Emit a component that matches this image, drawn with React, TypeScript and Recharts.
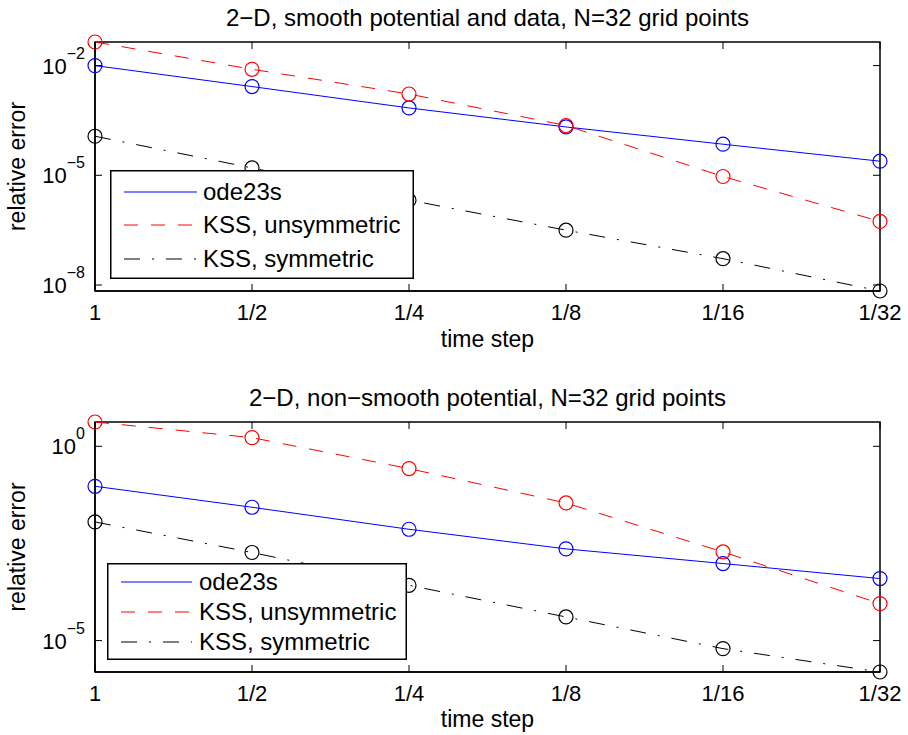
import React from "react";
import { LineChart, Line, XAxis, YAxis, Legend, ReferenceArea } from "recharts";

// x categories (time step), shared by both panels
const timeSteps = ["1", "1/2", "1/4", "1/8", "1/16", "1/32"];
const seriesNames = ["ode23s", "KSS, unsymmetric", "KSS, symmetric"];
const seriesKeys = ["ode", "kssU", "kssS"];
const seriesColors = ["#0000ff", "#ff0000", "#000000"];
const seriesDashes = ["none", "14 13", "16 12 2 12"];

// panel 1: smooth potential and data
const smoothOde = [1.0e-2, 2.67e-3, 6.95e-4, 2.1e-4, 7.08e-5, 2.43e-5];
const smoothKssU = [4.42e-2, 7.93e-3, 1.67e-3, 2.3e-4, 9.27e-6, 5.47e-7];
const smoothKssS = [1.17e-4, 1.59e-5, 2.09e-6, 3.16e-7, 5.25e-8, 6.85e-9];
const smoothTicks = [1e-2, 1e-5, 1e-8];

// panel 2: non-smooth potential
const roughOde = [9.35e-2, 2.7e-2, 7.33e-3, 2.29e-3, 9.62e-4, 3.95e-4];
const roughKssU = [4.22, 1.67, 0.267, 3.48e-2, 1.91e-3, 8.95e-5];
const roughKssS = [1.13e-2, 1.85e-3, 2.65e-4, 4.06e-5, 6.22e-6, 1.556e-6];
const roughTicks = [1, 1e-5];

const WIDTH = 908;
const YAXIS_W = 95;
const MARGIN_RIGHT = 28;
const TICK = 7;
const FONT = "'Liberation Sans', Arial, Helvetica, sans-serif";

interface PanelSpec {
  title: string;
  top: number;
  height: number;
  marginTop: number;
  xAxisHeight: number;
  xLabelGap: number;
  values: number[][];
  ticks: number[];
  legend: { left: number; top: number; width: number; height: number; rows: number[]; lineEnd: number; textX: number };
}

const panels: PanelSpec[] = [
  {
    title: "2\u2212D, smooth potential and data, N=32 grid points",
    top: 0,
    height: 367,
    marginTop: 42,
    xAxisHeight: 76,
    xLabelGap: 56,
    values: [smoothOde, smoothKssU, smoothKssS],
    ticks: smoothTicks,
    legend: { left: 110, top: 170, width: 304, height: 109, rows: [22, 55, 89], lineEnd: 87, textX: 93 },
  },
  {
    title: "2\u2212D, non\u2212smooth potential, N=32 grid points",
    top: 367,
    height: 368,
    marginTop: 55,
    xAxisHeight: 63,
    xLabelGap: 55,
    values: [roughOde, roughKssU, roughKssS],
    ticks: roughTicks,
    legend: { left: 107, top: 196, width: 300, height: 97, rows: [19, 49, 79], lineEnd: 85, textX: 92 },
  },
];

function LegendBox({ spec }: { spec: PanelSpec["legend"] }) {
  return (
    <svg width={spec.width} height={spec.height} style={{ display: "block" }}>
      <rect x={0.75} y={0.75} width={spec.width - 1.5} height={spec.height - 1.5} fill="#fff" stroke="#000" strokeWidth={1.5} />
      {seriesNames.map((name, k) => (
        <g key={name}>
          <line x1={14} x2={spec.lineEnd} y1={spec.rows[k]} y2={spec.rows[k]} stroke={seriesColors[k]} strokeWidth={1} strokeDasharray={seriesDashes[k]} />
          <text x={spec.textX} y={spec.rows[k] + 8} fontSize={24} fontFamily={FONT} fill="#000">
            {name}
          </text>
        </g>
      ))}
    </svg>
  );
}

function Panel({ p }: { p: PanelSpec }) {
  const plotTop = p.marginTop;
  const plotBottom = p.height - p.xAxisHeight;
  const plotLeft = YAXIS_W;
  const plotRight = WIDTH - MARGIN_RIGHT;

  const data = timeSteps.map((t, i) => ({
    i,
    ode: p.values[0][i],
    kssU: p.values[1][i],
    kssS: p.values[2][i],
  }));
  const all = p.values.flat();
  const domain = [Math.min(...all), Math.max(...all)];

  const XTick = (props: any) => {
    const { x, payload } = props;
    return (
      <g>
        <line x1={x} x2={x} y1={plotBottom} y2={plotBottom - TICK} stroke="#000" />
        <line x1={x} x2={x} y1={plotTop} y2={plotTop + TICK} stroke="#000" />
        <text x={x} y={plotBottom + 29} textAnchor="middle" fontSize={22} fontFamily={FONT} fill="#000">
          {timeSteps[payload.value]}
        </text>
      </g>
    );
  };

  const YTick = (props: any) => {
    const { y, payload } = props;
    const exp = Math.round(Math.log10(payload.value));
    return (
      <g>
        <line x1={plotLeft} x2={plotLeft + TICK} y1={y} y2={y} stroke="#000" />
        <line x1={plotRight} x2={plotRight - TICK} y1={y} y2={y} stroke="#000" />
        <text x={plotLeft - 10} y={y + 8} textAnchor="end" fontSize={22} fontFamily={FONT} fill="#000">
          <tspan>10</tspan>
          <tspan dy={-15} fontSize={16}>
            {exp < 0 ? `\u2212${-exp}` : `${exp}`}
          </tspan>
        </text>
      </g>
    );
  };

  return (
    <div style={{ position: "absolute", left: 0, top: p.top, width: WIDTH, height: p.height }}>
      <svg width={WIDTH} height={p.height} style={{ position: "absolute", left: 0, top: 0 }}>
        <text x={(plotLeft + plotRight) / 2} y={plotTop - 16} textAnchor="middle" fontSize={24} fontFamily={FONT} fill="#000">
          {p.title}
        </text>
        <text x={(plotLeft + plotRight) / 2} y={plotBottom + p.xLabelGap} textAnchor="middle" fontSize={23} fontFamily={FONT} fill="#000">
          time step
        </text>
        <text
          transform={`translate(25, ${(plotTop + plotBottom) / 2}) rotate(-90)`}
          textAnchor="middle"
          fontSize={23}
          fontFamily={FONT}
          fill="#000"
        >
          relative error
        </text>
      </svg>
      <LineChart
        width={WIDTH}
        height={p.height}
        data={data}
        margin={{ top: p.marginTop, right: MARGIN_RIGHT, bottom: 0, left: 0 }}
        style={{ position: "absolute", left: 0, top: 0 }}
      >
        <XAxis
          xAxisId="b"
          dataKey="i"
          type="number"
          domain={[0, timeSteps.length - 1]}
          ticks={timeSteps.map((t, i) => i)}
          height={p.xAxisHeight}
          tickLine={false}
          tick={XTick}
          axisLine={{ stroke: "#000", strokeWidth: 1.5 }}
          interval={0}
        />
        <YAxis
          yAxisId="l"
          type="number"
          scale="log"
          domain={domain}
          ticks={p.ticks}
          width={YAXIS_W}
          tickLine={false}
          tick={YTick}
          axisLine={{ stroke: "#000", strokeWidth: 1.5 }}
          interval={0}
        />
        <ReferenceArea
          xAxisId="b"
          yAxisId="l"
          x1={0}
          x2={timeSteps.length - 1}
          y1={domain[0]}
          y2={domain[1]}
          fill="none"
          fillOpacity={0}
          stroke="#000"
          strokeWidth={1.5}
          ifOverflow="visible"
        />
        {seriesKeys.map((key, k) => (
          <Line
            key={key}
            xAxisId="b"
            yAxisId="l"
            type="linear"
            dataKey={key}
            name={seriesNames[k]}
            stroke={seriesColors[k]}
            strokeWidth={1}
            strokeDasharray={seriesDashes[k]}
            dot={{ r: 7, fill: "none", stroke: seriesColors[k], strokeWidth: 1.2, strokeDasharray: "none" }}
            activeDot={false}
            isAnimationActive={false}
          />
        ))}
        <Legend
          layout="vertical"
          align="center"
          verticalAlign="middle"
          wrapperStyle={{ left: p.legend.left, top: p.legend.top, width: p.legend.width, height: p.legend.height }}
          content={() => <LegendBox spec={p.legend} />}
        />
      </LineChart>
    </div>
  );
}

export default function App() {
  return (
    <div style={{ position: "absolute", left: 0, top: 0, width: WIDTH, height: 735, background: "#fff", fontFamily: FONT }}>
      {panels.map((p) => (
        <Panel key={p.title} p={p} />
      ))}
    </div>
  );
}
